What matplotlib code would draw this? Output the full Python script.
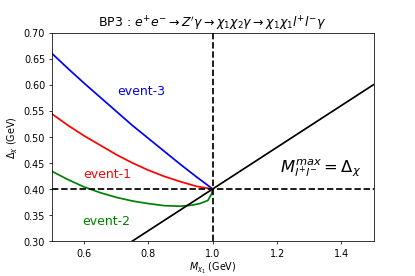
import numpy as np
import matplotlib
matplotlib.use("Agg")
import matplotlib.pyplot as plt

# values
m_chi = [0.5, 0.55, 0.6, 0.65, 0.7, 0.75, 0.8, 0.85, 0.9, 0.95, 1.0]
event3 = [0.660, 0.631, 0.603, 0.576, 0.549, 0.522, 0.497, 0.472, 0.447, 0.423, 0.400]
event1 = [0.544, 0.522, 0.502, 0.484, 0.466, 0.450, 0.436, 0.424, 0.414, 0.405, 0.400]

m_chi_2 = [0.5, 0.55, 0.6, 0.65, 0.7, 0.75, 0.8, 0.85, 0.9, 0.935, 0.96, 0.985, 0.997, 1.0]
event2 = [0.434, 0.418, 0.404, 0.393, 0.384, 0.377, 0.372, 0.368, 0.367, 0.369, 0.372, 0.378, 0.391, 0.400]

line_x = [0.5, 1.5]
line_y = [0.2, 0.6]

fig = plt.figure(figsize=(6, 4), dpi=415 / 6)
fig.subplots_adjust(left=0.125, right=0.9, top=0.88, bottom=0.126)
ax = fig.add_subplot(111)

ax.plot(m_chi, event3, c="blue", lw=1.8)
ax.plot(m_chi, event1, c="red", lw=1.8)
ax.plot(m_chi_2, event2, c="green", lw=1.8)
ax.plot(line_x, line_y, c="black", lw=1.8)
ax.axhline(0.4, c="black", ls="--", lw=1.8)
ax.axvline(1.0, c="black", ls="--", lw=1.8)

ax.text(0.777, 0.588, "event-3", color="blue", fontsize=13, ha="center", va="center")
ax.text(0.672, 0.429, "event-1", color="red", fontsize=13, ha="center", va="center")
ax.text(0.67, 0.338, "event-2", color="green", fontsize=13, ha="center", va="center")
ax.text(1.335, 0.442, r"$M_{l^{+}l^{-}}^{max} = \Delta_{\chi}$", fontsize=17, ha="center", va="center")

ax.set_xlim(0.5, 1.5)
ax.set_ylim(0.3, 0.7)
ax.set_xticks([0.6, 0.8, 1.0, 1.2, 1.4])
ax.set_yticks(np.arange(0.30, 0.701, 0.05))
ax.set_xlabel(r"$M_{\chi_1}$ (GeV)", labelpad=2)
ax.set_ylabel(r"$\Delta_{\chi}$ (GeV)")
ax.set_title(r"BP3 : $e^{+}e^{-} \rightarrow Z^{\prime}\gamma \rightarrow \chi_1\chi_2\gamma \rightarrow \chi_1\chi_1 l^{+}l^{-}\gamma$", fontsize=13)

fig.savefig("out.png")
